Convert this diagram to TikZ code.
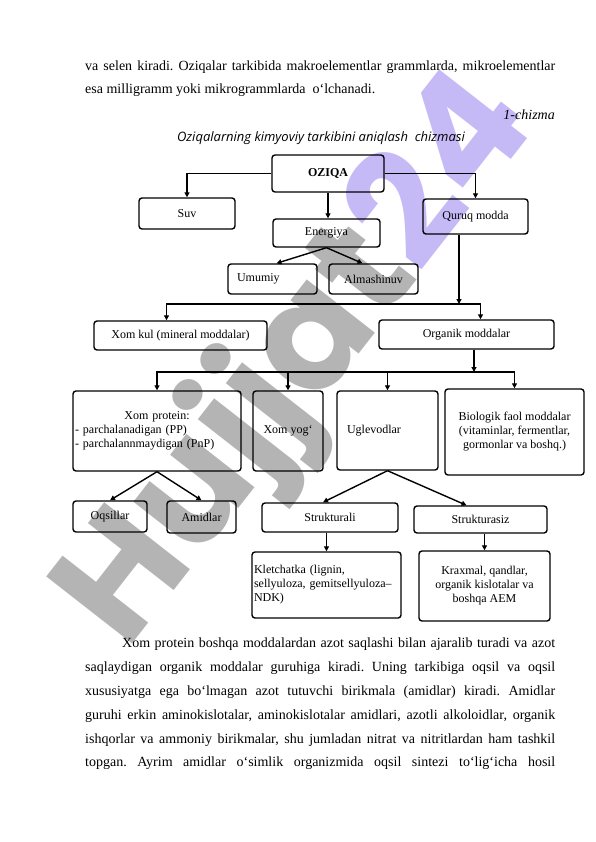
\documentclass[tikz,border=0pt]{standalone}
\usepackage{fontspec}
\setmainfont{Liberation Serif}
\newfontfamily\titlefont{Open Sans}
\newfontfamily\wmfont{Poppins}
\usepackage{tikz}
\usetikzlibrary{positioning,arrows.meta}
\definecolor{wmgrey}{RGB}{180,180,180}
\definecolor{wmviolet}{RGB}{198,186,246}
\frenchspacing

\begin{document}
\begin{tikzpicture}[x=1pt, y=-1pt,
    box/.style={draw, line width=1.4pt, rounded corners=3pt, inner sep=2pt, align=center, font=\fontsize{12}{14}\selectfont},
    lbox/.style={box, align=left},
    arrow/.style={->, line width=1.4pt, >={Triangle[length=5pt,width=5pt]}},
    body/.style={anchor=base west, inner sep=0pt, font=\fontsize{14}{16}\selectfont},
    wmark/.style={rotate=52, inner sep=0pt, text=wmgrey, font=\wmfont\bfseries\fontsize{155}{155}\selectfont}
]
\fill[white] (0,0) rectangle (596,842);
\useasboundingbox (0,0) rectangle (596,842);
% watermark behind everything
\node[wmark] (wm) at (300,362) {Hujjat\textcolor{wmviolet}{24}};

% text above the scheme
\node[body] (l1) at (85,71) {\makebox[470pt][s]{va selen kiradi. Oziqalar tarkibida makroelementlar grammlarda, mikroelementlar}};
\node[body] (l2) at (85,94) {esa milligramm yoki mikrogrammlarda\ \ o‘lchanadi.};
\node[body, anchor=base east, font=\fontsize{14}{16}\selectfont\itshape] (chizma) at (555,120) {1-chizma};
\node[anchor=base, inner sep=0pt, font=\titlefont\itshape\fontsize{13}{15}\selectfont] (title) at (321,142) {Oziqalarning kimyoviy tarkibini aniqlash\ \ chizmasi};

% boxes
\node[box, minimum width=112pt, minimum height=37pt, font=\fontsize{12}{14}\selectfont\bfseries] (oziqa) at (328,173.5) {OZIQA};
\node[box, minimum width=96pt,  minimum height=31pt] (suv)        at (187,213.5)   {Suv};
\node[box, minimum width=105pt, minimum height=35pt] (quruq)      at (475.5,216.5) {Quruq modda};
\node[box, minimum width=107pt, minimum height=28pt] (energiya)   at (326.5,233)   {Energiya};
\node[lbox, text width=71pt, inner xsep=9pt, minimum height=30pt] (umumiy) at (272.5,279) {Umumiy};
\node[box, minimum width=89pt,  minimum height=30pt] (almashinuv) at (373.5,279)   {Almashinuv};
\node[box, minimum width=173pt, minimum height=29pt] (xomkul)     at (180.5,335.5) {Xom kul (mineral moddalar)};
\node[box, minimum width=175pt, minimum height=29pt] (organik)    at (466.5,334.5) {Organik moddalar};
\node[lbox, text width=164pt, minimum height=80pt] (xomprot) at (157,431)
  {\makebox[164pt]{Xom protein:}\\- parchalanadigan (PP)\\- parchalannmaydigan (PnP)};
\node[box, minimum width=70pt,  minimum height=80pt] (xomyog)     at (288,431)     {Xom yog‘};
\node[lbox, text width=81pt, inner xsep=10pt, minimum height=79pt] (uglevod) at (387.5,430.5) {Uglevodlar};
\node[box, minimum width=139pt, minimum height=86pt] (biolog)     at (514.5,432)
  {Biologik faol moddalar\\(vitaminlar, fermentlar,\\gormonlar va boshq.)};
\node[box, minimum width=74pt,  minimum height=31pt] (oqsil)      at (110,516.5)   {Oqsillar};
\node[box, minimum width=69pt,  minimum height=32pt] (amid)       at (201.5,517)   {Amidlar};
\node[box, minimum width=136pt, minimum height=29pt] (strukt)     at (330,517.5)   {Strukturali};
\node[box, minimum width=133pt, minimum height=27pt] (struktsiz)  at (480.5,519.5) {Strukturasiz};
\node[lbox, text width=145pt, minimum height=66pt] (kletch) at (326.5,585)
  {Kletchatka (lignin,\\sellyuloza, gemitsellyuloza–\\NDK)};
\node[box, minimum width=131pt, minimum height=70pt] (kraxmal)    at (484.5,586)
  {Kraxmal, qandlar,\\organik kislotalar va\\boshqa AEM};

% junctions
\coordinate (j1) at (459,304);
\coordinate (j2) at (474,372);

\draw[arrow] (oziqa.west) -| (suv.north);
\draw[arrow] (oziqa.east) -| (quruq.north);
\draw[arrow] (oziqa.south) -- (oziqa.south |- energiya.north);
\draw[arrow] (energiya.south) -- ([xshift=4pt]umumiy.north);
\draw[arrow] (energiya.south) -- ([xshift=-11pt]almashinuv.north);
\draw[arrow] (quruq.south -| j1) -- (j1);
\draw[arrow] (j1) -| ([xshift=-14pt]xomkul.north);
\draw[arrow] (j1) -| ([xshift=14pt]organik.north);
\draw[arrow] (organik.south -| j2) -- (j2);
\foreach \n in {xomprot,xomyog,uglevod,biolog}
  \draw[arrow] (j2) -| (\n.north);
\draw[arrow] (xomprot.south) -- (oqsil.north);
\draw[arrow] (xomprot.south) -- (amid.north);
\draw[arrow] (uglevod.south) -- ([xshift=-7pt]strukt.north);
\draw[arrow] (uglevod.south) -- ([xshift=-14pt]struktsiz.north);
\draw[arrow] (kletch.north |- strukt.south) -- (kletch.north);
\draw[arrow] (kraxmal.north |- struktsiz.south) -- (kraxmal.north);

% text below the scheme
\node[body] (p1) at (122,647) {\makebox[433pt][s]{Xom protein boshqa moddalardan azot saqlashi bilan ajaralib turadi va azot}};
\node[body] (p2) at (85,671)  {\makebox[470pt][s]{saqlaydigan organik moddalar guruhiga kiradi. Uning tarkibiga oqsil va oqsil}};
\node[body] (p3) at (85,695)  {\makebox[470pt][s]{xususiyatga ega bo‘lmagan azot tutuvchi birikmala (amidlar) kiradi. Amidlar}};
\node[body] (p4) at (85,719)  {\makebox[470pt][s]{guruhi erkin aminokislotalar, aminokislotalar amidlari, azotli alkoloidlar, organik}};
\node[body] (p5) at (85,743)  {\makebox[470pt][s]{ishqorlar va ammoniy birikmalar, shu jumladan nitrat va nitritlardan ham tashkil}};
\node[body] (p6) at (85,766)  {\makebox[470pt][s]{topgan. Ayrim amidlar o‘simlik organizmida oqsil sintezi to‘lig‘icha hosil}};
\end{tikzpicture}
\end{document}
